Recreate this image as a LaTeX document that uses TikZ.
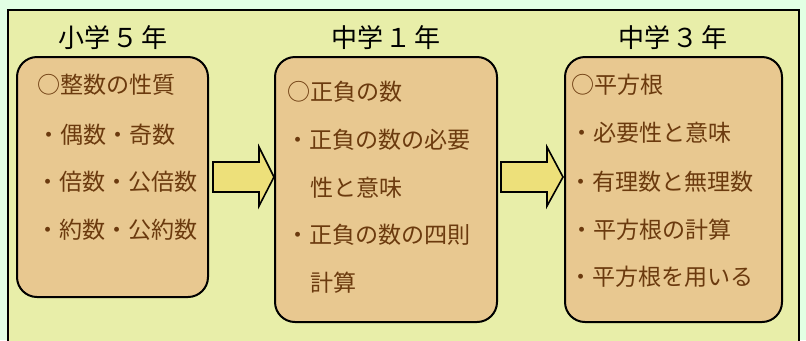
\documentclass[tikz,border=0pt]{standalone}
\usepackage{fontspec}
\newfontfamily\jp{Noto Sans CJK JP}
\definecolor{bgmint}{HTML}{E2FFE4}
\definecolor{panel}{HTML}{E8EEA9}
\definecolor{boxfill}{HTML}{E8C890}
\definecolor{arrowfill}{HTML}{EDE07A}
\definecolor{txtbrown}{HTML}{6B3A0E}
\tikzset{
  px/.style={x=0.75pt,y=-0.75pt},
  topicbox/.style={draw=black, line width=1.5pt, fill=boxfill, rounded corners=15pt},
  blockarrow/.style={draw=black, line width=1.2pt, fill=arrowfill, line join=miter},
  title/.style={font=\jp\fontsize{19.5}{22}\selectfont, text=black, inner sep=0pt},
  item/.style={font=\jp\fontsize{17.3}{20}\selectfont, text=txtbrown, anchor=west, inner sep=0pt},
}
\begin{document}
\begin{tikzpicture}[px]
\useasboundingbox (0,0) rectangle (806,340);
\fill[bgmint] (0,0) rectangle (806,340);
\draw[fill=panel, line width=1.5pt] (8,10) rectangle (799,350);
% boxes
\draw[topicbox] (17,57) rectangle (208,297);
\draw[topicbox] (275,57) rectangle (497,322);
\draw[topicbox] (565,57) rectangle (782,322);
% arrows
\draw[blockarrow] (213,162) -- (259,162) -- (259,147) -- (274,177) -- (259,206) -- (259,192) -- (213,192) -- cycle;
\draw[blockarrow] (501,162) -- (547,162) -- (547,147) -- (563,177) -- (547,206) -- (547,192) -- (501,192) -- cycle;
% titles
\node[title] (t1) at (113,38) {小学\hspace{2pt}５\hspace{2pt}年};
\node[title] (t2) at (386,38) {中学\hspace{2pt}１\hspace{2pt}年};
\node[title] (t3) at (673,38) {中学\hspace{2pt}３\hspace{2pt}年};
% box 1
\node[item] (a1) at (37,85) {○整数の性質};
\node[item] (a2) at (37,135) {・偶数・奇数};
\node[item] (a3) at (36,182) {・倍数・公倍数};
\node[item] (a4) at (36,230) {・約数・公約数};
% box 2
\node[item] (b1) at (287,92) {○正負の数};
\node[item] (b2) at (286,140) {・正負の数の必要};
\node[item] (b3) at (310,188) {性と意味};
\node[item] (b4) at (286,235) {・正負の数の四則};
\node[item] (b5) at (310,283) {計算};
% box 3
\node[item] (c1) at (571,85) {○平方根};
\node[item] (c2) at (570,133) {・必要性と意味};
\node[item] (c3) at (569,182) {・有理数と無理数};
\node[item] (c4) at (570,230) {・平方根の計算};
\node[item] (c5) at (569,277) {・平方根を用いる};
\end{tikzpicture}
\end{document}
